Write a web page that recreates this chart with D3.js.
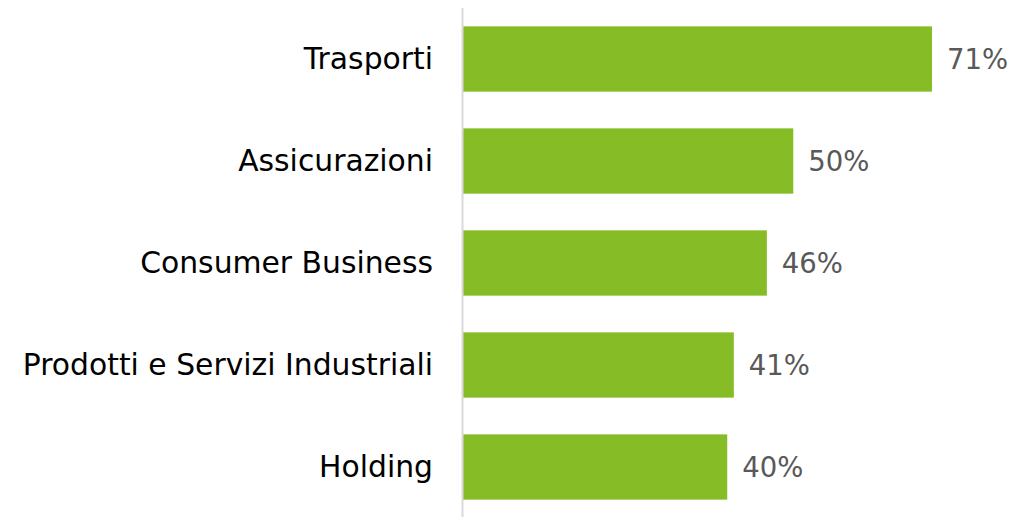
<!DOCTYPE html>
<html>
<head>
<meta charset="utf-8">
<script src="https://cdn.jsdelivr.net/npm/d3@7"></script>
<style>
  body { margin: 0; background: #fff; }
  text { font-family: "DejaVu Sans", Verdana, sans-serif; }
</style>
</head>
<body>
<div id="chart-area"></div>
<script>
const categories = ["Trasporti", "Assicurazioni", "Consumer Business", "Prodotti e Servizi Industriali", "Holding"]
const values = [71, 50, 46, 41, 40]
const valueLabels = ["71%", "50%", "46%", "41%", "40%"]

const chartAreaWidth = 1035
const chartAreaHeight = 517
const margin = {top: 8, left: 463}

const svg = d3.select("#chart-area").append("svg")
    .attr("width", chartAreaWidth)
    .attr("height", chartAreaHeight)

const g = svg.append("g")
    .attr("transform", `translate(${margin.left}, 0)`)

const x = d3.scaleLinear()
    .domain([0, 71])
    .range([0, 469])

const y = d3.scaleBand()
    .domain(categories)
    .range([8, 518])
    .paddingInner(0.36)
    .paddingOuter(0.18)

// bars
g.selectAll("rect.bar")
    .data(values)
    .enter().append("rect")
    .attr("class", "bar")
    .attr("x", 0)
    .attr("y", (d, i) => y(categories[i]))
    .attr("width", d => x(d))
    .attr("height", y.bandwidth())
    .attr("fill", "#86bc25")

// vertical axis line, no ticks
const yAxis = d3.axisLeft(y).tickSize(0).tickPadding(30)
const axisG = g.append("g")
    .call(yAxis)
axisG.select(".domain")
    .attr("d", `M-0.5,8V517`)
    .attr("stroke", "#d9d9d9")
    .attr("stroke-width", 2)
axisG.selectAll(".tick text")
    .attr("font-size", "29.8px")
    .attr("fill", "#000")
    .attr("dy", "0.35em")
    .style("font-family", "'DejaVu Sans', Verdana, sans-serif")

// value labels
g.selectAll("text.value")
    .data(values)
    .enter().append("text")
    .attr("class", "value")
    .attr("x", d => x(d) + 15)
    .attr("y", (d, i) => y(categories[i]) + y.bandwidth() / 2)
    .attr("dy", "0.35em")
    .attr("font-size", "27.5px")
    .attr("fill", "#595959")
    .text((d, i) => valueLabels[i])
</script>
</body>
</html>
